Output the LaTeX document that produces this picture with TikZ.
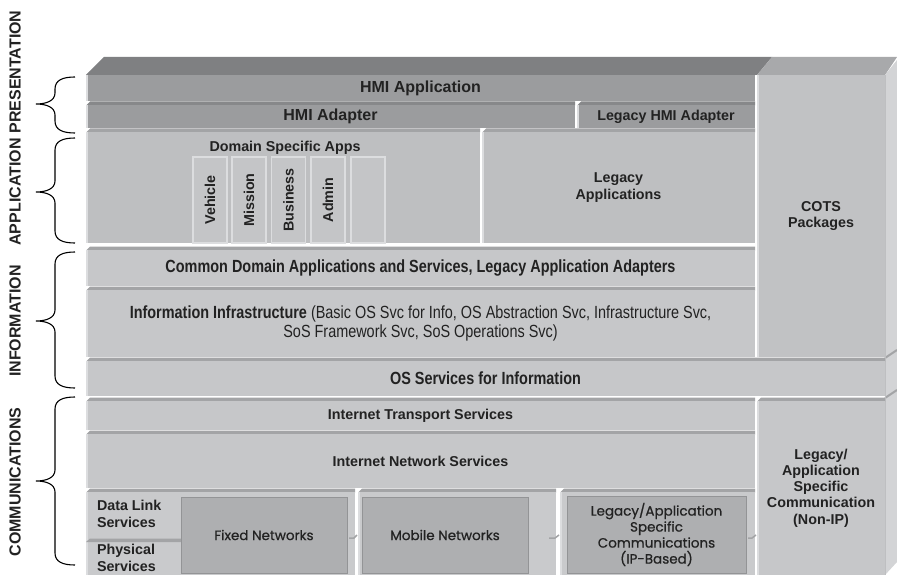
\documentclass[tikz,border=0pt]{standalone}
\usepackage{fontspec}
\setmainfont{Liberation Sans}
\newfontfamily\narrowfont[FakeStretch=0.82]{Liberation Sans}
\newfontfamily\geofont[FakeBold=0.7]{Poppins}
\definecolor{ink}{HTML}{222222}
\definecolor{hmiface}{HTML}{9B9C9E}
\definecolor{hmitop}{HTML}{7F8082}
\definecolor{hmibevel}{HTML}{87888A}
\definecolor{appface}{HTML}{BEBFC1}
\definecolor{lightface}{HTML}{C6C7C9}
\definecolor{bevel}{HTML}{A3A4A6}
\definecolor{cotsface}{HTML}{C1C2C4}
\definecolor{cotstop}{HTML}{A8A9AB}
\definecolor{sideface}{HTML}{D3D4D6}
\definecolor{hilite}{HTML}{DCDDDF}
\definecolor{panel}{HTML}{C9CACC}
\definecolor{netbox}{HTML}{AEAFB1}
\definecolor{netedge}{HTML}{939496}
\definecolor{appbox}{HTML}{C4C5C7}

% a front face with its thin top bevel and a light left edge
% #1 name, #2 x0, #3 y0, #4 x1, #5 y1, #6 face, #7 bevel, #8 font, #9 text
\newcommand\layer[9]{%
  \fill[#7] (#2,#3+0.5) -- (#2+4,#3-3.5) -- (#4,#3-3.5) -- (#4,#3+0.5) -- cycle;
  \node[block, fill=#6, font=#8, minimum width={#4-#2}, minimum height={#5-#3}]
    (#1) at ({(#2+#4)/2},{(#3+#5)/2}) {#9};
  \draw[hiline] (#2+0.8,#3) -- (#2+0.8,#5);
}
% curly brace opening to the right: #1 top, #2 tip, #3 bottom
\newcommand\sidebrace[3]{%
  \draw[bracepen] (75,#1) .. controls (63,#1) and (55,#1+3) .. (55,#1+12)
    -- (55,#2-11) .. controls (55,#2-3) and (46,#2) .. (36,#2)
    .. controls (46,#2) and (55,#2+3) .. (55,#2+11)
    -- (55,#3-12) .. controls (55,#3-3) and (63,#3) .. (75,#3);
}

\begin{document}
\begin{tikzpicture}[x=1pt,y=-1pt,
  block/.style={inner sep=0pt, outer sep=0pt, draw=none, text=ink, align=center},
  hiline/.style={draw=hilite, line width=1.4pt},
  bracepen/.style={draw=black, line width=1.1pt},
  sidelabel/.style={rotate=90, text=ink, font=\bfseries\fontsize{16}{18}\selectfont},
  appbx/.style={block, fill=appbox, draw=hilite, line width=1.2pt,
    minimum width=34, minimum height=86},
  netbx/.style={block, fill=netbox, draw=netedge, line width=1pt,
    font=\geofont\fontsize{13.5}{16.5}\selectfont},
  bodyb/.style={font=\bfseries\fontsize{14.3}{16.5}\selectfont},
]
\useasboundingbox (0,0) rectangle (897,575);
\fill[white] (0,0) rectangle (897,575);

% ---- layer labels and braces on the left ----
\node[sidelabel] (lPres) at (15,72) {PRESENTATION};
\node[sidelabel] (lApp)  at (15,192) {APPLICATION};
\node[sidelabel] (lInfo) at (15,321) {INFORMATION};
\node[sidelabel] (lComm) at (15,482) {COMMUNICATIONS};
\sidebrace{77}{104}{133}
\sidebrace{138}{192}{243}
\sidebrace{252}{321}{388}
\sidebrace{397}{481}{565}

% ---- top faces and right side face of the stack ----
\fill[hmitop] (86,75) -- (104,57) -- (772,57) -- (757,75) -- cycle;
\fill[cotstop] (757,75) -- (772,57) -- (897,57) -- (885,75) -- cycle;
\fill[sideface] (885,75) -- (897,60) -- (897,562) -- (885,575) -- cycle;
\draw[bevel, line width=2pt] (885,358) -- (897,350);
\draw[bevel, line width=2pt] (885,398) -- (897,390);
\draw[bevel!70!white, line width=1pt] (885,75) -- (885,575);

% ---- presentation ----
\layer{hmiApp}{86}{75}{755}{101}{hmiface}{hmitop}{\bfseries\fontsize{16}{18}\selectfont}{HMI Application}
\layer{hmiAdp}{86}{105}{575}{128}{hmiface}{hmibevel}{\bfseries\fontsize{16}{18}\selectfont}{HMI Adapter}
\layer{hmiLeg}{577}{105}{755}{128}{hmiface}{hmibevel}{\bfseries\fontsize{14.3}{16}\selectfont}{Legacy HMI Adapter}

% ---- application ----
\layer{domApps}{86}{132}{480}{243}{appface}{bevel}{\bfseries}{}
\layer{legApps}{482}{132}{755}{243}{appface}{bevel}{\bfseries\fontsize{14.3}{16.5}\selectfont}{Legacy\\Applications}
\node[block, bodyb] (domTitle) at (285,148) {Domain Specific Apps};
\node[appbx] (bVeh) at (210,200) {};
\node[appbx] (bMis) at (249,200) {};
\node[appbx] (bBus) at (288.5,200) {};
\node[appbx] (bAdm) at (328,200) {};
\node[appbx] (bBlank) at (368,200) {};
\node[block, bodyb, rotate=90] at (bVeh) {Vehicle};
\node[block, bodyb, rotate=90] at (bMis) {Mission};
\node[block, bodyb, rotate=90] at (bBus) {Business};
\node[block, bodyb, rotate=90] at (bAdm) {Admin};

% ---- COTS column ----
\node[block, fill=cotsface, minimum width=128, minimum height=282,
  font=\bfseries\fontsize{14.3}{16.5}\selectfont] (cots) at (821,216) {COTS\\Packages};
\draw[hiline] (757.8,75) -- (757.8,357);

% ---- information ----
\layer{common}{86}{250}{755}{286}{lightface}{bevel}{\narrowfont\bfseries\fontsize{17.6}{20}\selectfont}{Common Domain Applications and Services, Legacy Application Adapters}
\layer{infra}{86}{290}{755}{357}{lightface}{bevel}{\narrowfont\fontsize{17.6}{18.5}\selectfont}{\textbf{Information Infrastructure} (Basic OS Svc for Info, OS Abstraction Svc, Infrastructure Svc,\\SoS Framework Svc, SoS Operations Svc)}
\layer{osSvc}{86}{361}{885}{396}{lightface}{bevel}{\narrowfont\bfseries\fontsize{17.6}{20}\selectfont}{OS Services for Information}

% ---- communications ----
\layer{inetT}{86}{401}{755}{430}{lightface}{bevel}{\bfseries\fontsize{14.3}{16.5}\selectfont}{Internet Transport Services}
\layer{inetN}{86}{434}{755}{488}{lightface}{bevel}{\bfseries\fontsize{14.3}{16.5}\selectfont}{Internet Network Services}
\layer{nonIP}{757}{401}{885}{575}{lightface}{bevel}{\bfseries\fontsize{14.3}{16.2}\selectfont}{Legacy/\\Application\\Specific\\Communication\\(Non-IP)}

% bottom row panels
\layer{pnlA}{86}{492}{355}{575}{panel}{bevel}{\bfseries}{}
\layer{pnlB}{358}{492}{556}{575}{panel}{bevel}{\bfseries}{}
\layer{pnlC}{560}{492}{755}{575}{panel}{bevel}{\bfseries}{}
\fill[bevel] (86,542) -- (90,538.5) -- (182,538.5) -- (182,542) -- cycle;
\node[block, bodyb, align=left, anchor=west] (dlink) at (97,514) {Data Link\\Services};
\node[block, bodyb, align=left, anchor=west] (phys) at (97,558) {Physical\\Services};
\node[netbx, minimum width=166, minimum height=76] (fixed) at (264,535) {Fixed Networks};
\node[netbx, minimum width=166, minimum height=76] (mobile) at (445,535) {Mobile Networks};
\node[netbx, minimum width=179, minimum height=77, font=\geofont\fontsize{13.5}{16}\selectfont] (legIP) at (656.5,534.5)
  {Legacy/Application\\Specific\\Communications\\(IP-Based)};
% small joints between the bottom panels
\draw[bevel, line width=1.5pt] (349,538) -- (354,538) -- (357,535);
\draw[bevel, line width=1.5pt] (549,538) -- (555,538) -- (559,535);
\draw[bevel, line width=1.5pt] (748,538) -- (752,538) -- (756,535);
\end{tikzpicture}
\end{document}
